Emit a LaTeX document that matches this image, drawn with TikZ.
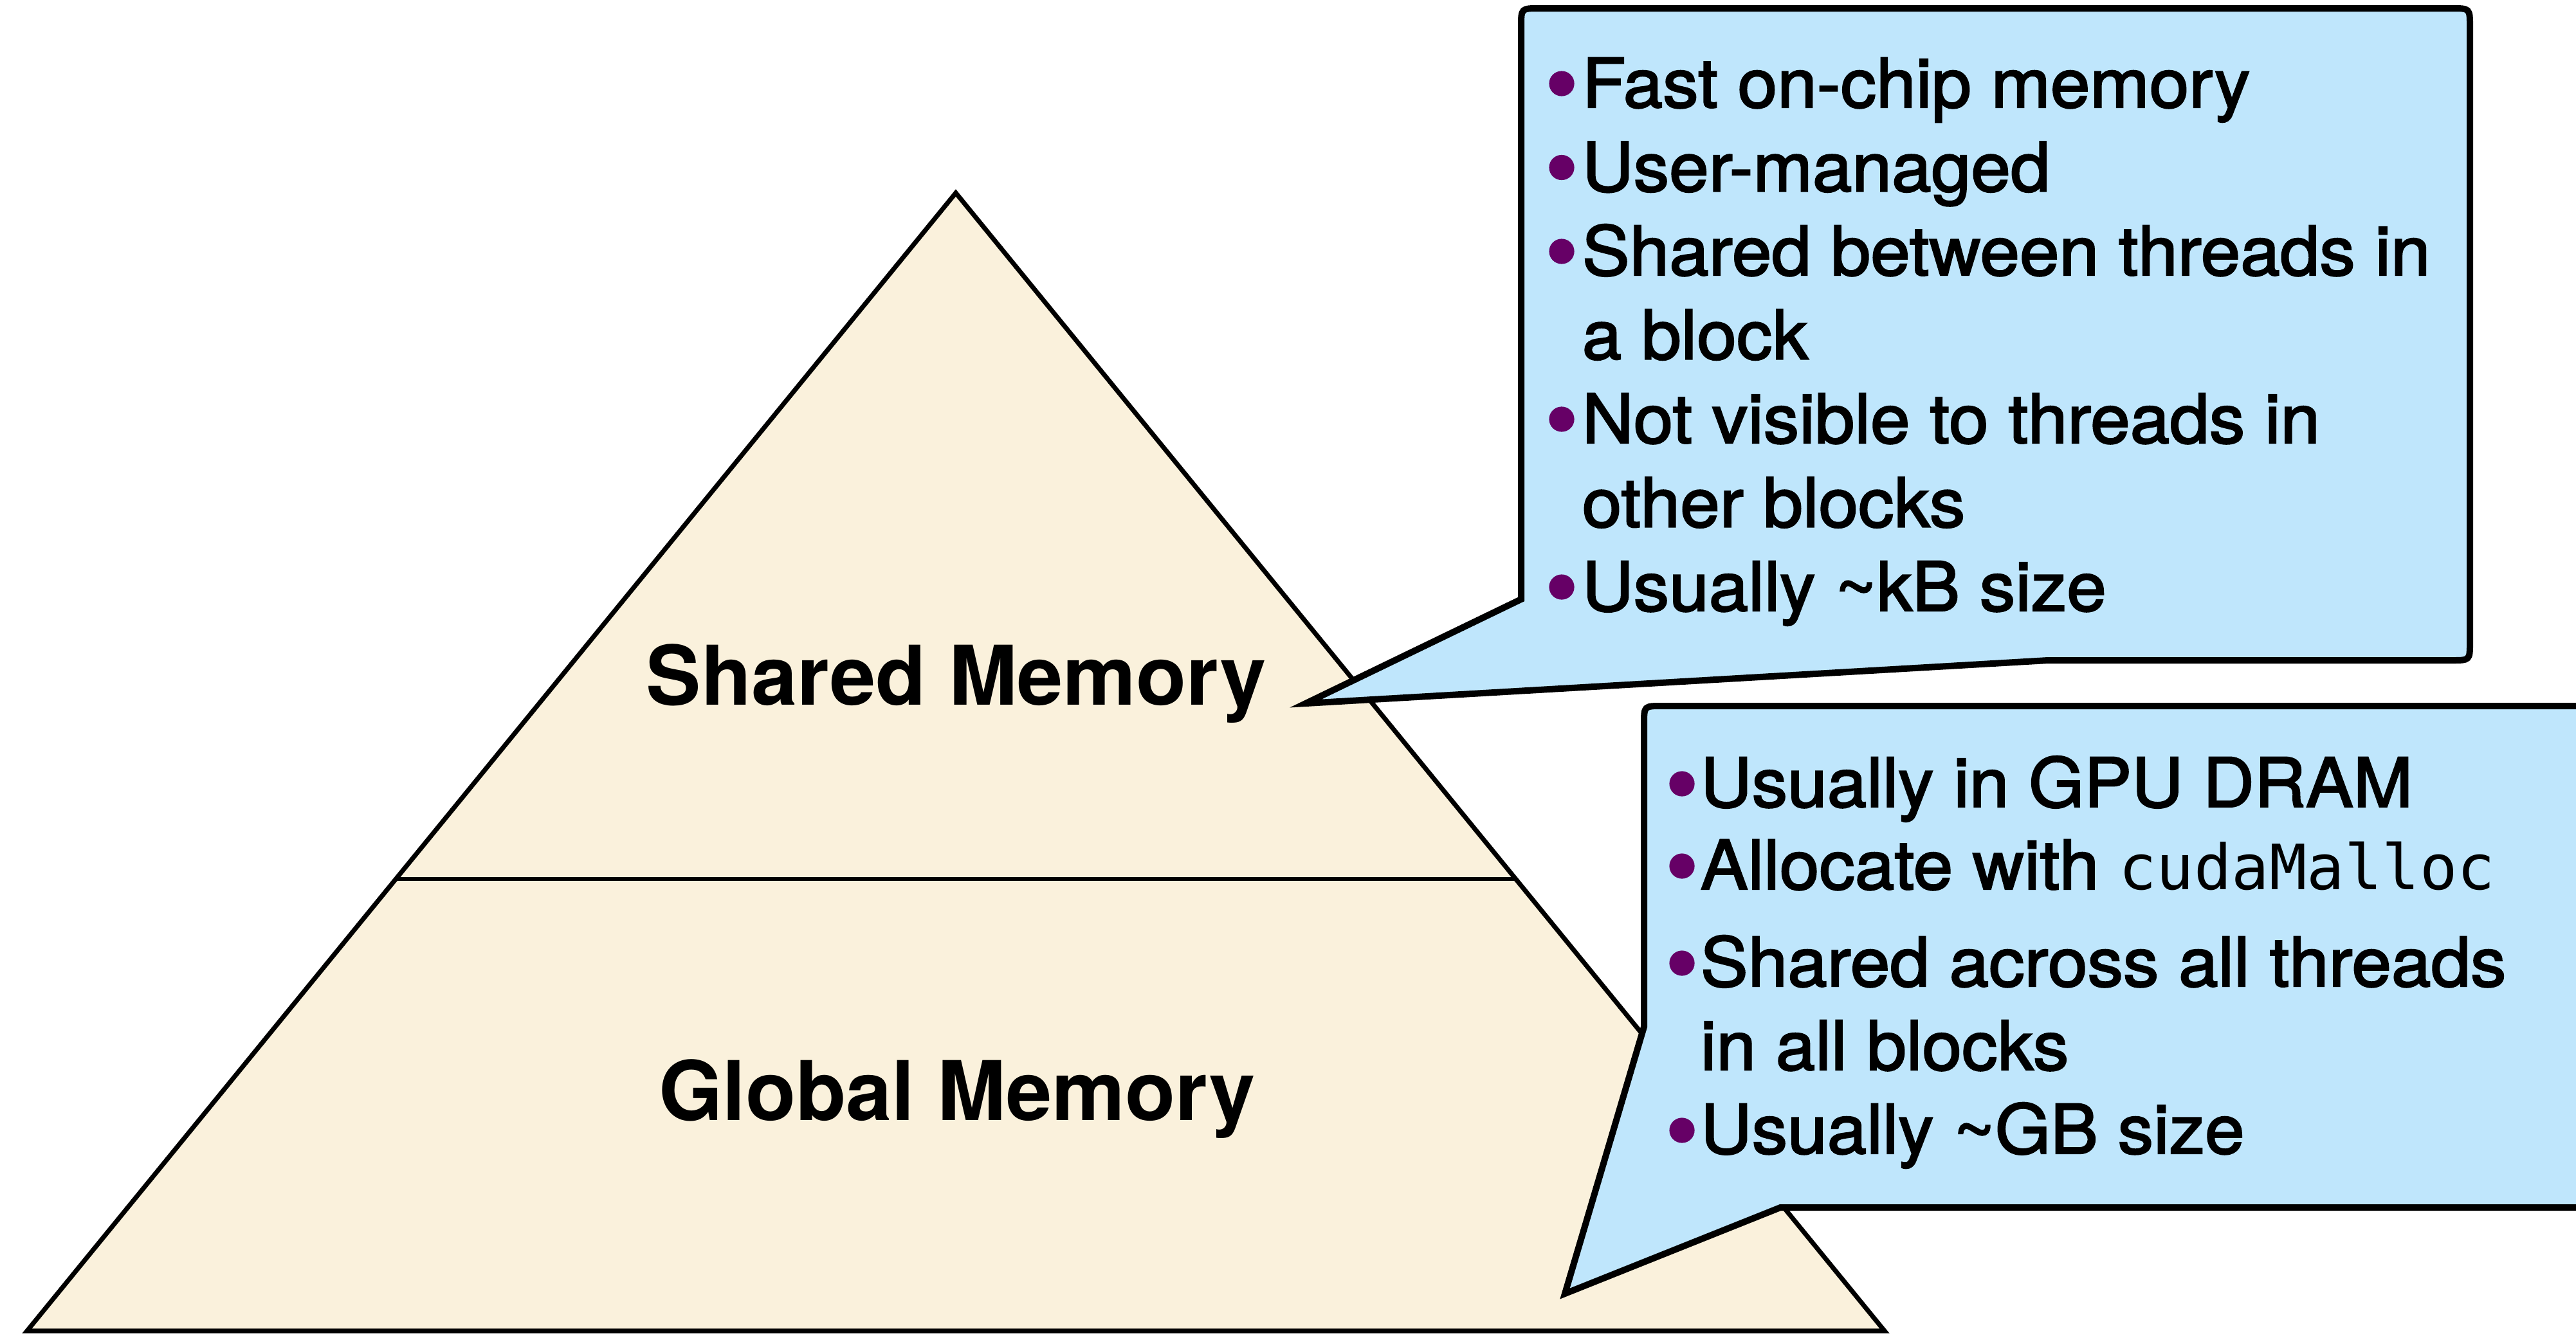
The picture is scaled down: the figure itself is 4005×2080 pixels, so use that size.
\documentclass[tikz,border=0pt]{standalone}
\usepackage{fontspec}
\setmainfont{TeX Gyre Heros}
\newfontfamily\itemfont{TeX Gyre Heros}[FakeStretch=1.045,FakeBold=2.2]
\newfontfamily\codefont{DejaVu Sans Mono}
\usetikzlibrary{calc}

\definecolor{pyrfill}{HTML}{FAF1DC}
\definecolor{notefill}{HTML}{BFE6FC}
\definecolor{dotcol}{HTML}{660066}

\tikzset{
  pyr/.style={draw=black, line width=1.8pt, fill=pyrfill, line join=miter},
  divider/.style={draw=black, line width=1.6pt},
  lbl/.style={font=\fontsize{32}{38}\selectfont\bfseries, inner sep=0pt},
  note/.style={draw=black, line width=2.5pt, fill=notefill, line join=miter},
  itemtxt/.style={font=\itemfont\fontsize{26.5}{32}\selectfont, inner sep=0pt, anchor=base west},
  dotmark/.style={circle, fill=dotcol, inner sep=0pt, minimum size=9.8pt},
}

\begin{document}
\begin{tikzpicture}[x=0.25pt, y=-0.25pt]
\useasboundingbox (0,0) rectangle (4005,2080);
\clip (0,0) rectangle (4005,2080);

% memory pyramid
\coordinate (apex) at (1486,300);
\coordinate (bl) at (42,2070);
\coordinate (br) at (2930,2070);
\draw[pyr] (bl) -- (apex) -- (br) -- cycle;
\coordinate (dl) at ($(bl)!0.3972!(apex)$);
\coordinate (dr) at ($(br)!0.3972!(apex)$);
\draw[divider] (dl) -- (dr);

\node[lbl, anchor=base] (shared) at (1487,1096) {Shared Memory};
\node[lbl, anchor=base] (global) at (1488,1742) {Global Memory};

% callout for shared memory
\draw[note] (2365,932) -- (2365,41) .. controls (2365,13) .. (2393,13)
  -- (3812,13) .. controls (3840,13) .. (3840,41)
  -- (3840,999) .. controls (3840,1027) .. (3812,1027)
  -- (3184,1027) -- (2030,1094) -- cycle;

\node[itemtxt] (s1) at (2459,167) {Fast on-chip memory};
\node[itemtxt] (s2) at (2459,297.5) {User-managed};
\node[itemtxt] (s3) at (2459,428) {Shared between threads in};
\node[itemtxt] (s3b) at (2459,558.5) {a block};
\node[itemtxt] (s4) at (2459,689) {Not visible to threads in};
\node[itemtxt] (s4b) at (2459,819.5) {other blocks};
\node[itemtxt] (s5) at (2459,950) {Usually \textasciitilde kB size};
\node[dotmark] (sd1) at (2428,130) {};
\node[dotmark] (sd2) at (2428,260.5) {};
\node[dotmark] (sd3) at (2428,391) {};
\node[dotmark] (sd4) at (2428,652) {};
\node[dotmark] (sd5) at (2428,913) {};

% callout for global memory
\draw[note] (2556,1597) -- (2556,1126) .. controls (2556,1098) .. (2584,1098)
  -- (4120,1098) -- (4120,1878) -- (2768,1878) -- (2433,2012) -- cycle;

\node[itemtxt] (g1) at (2643,1255) {Usually in GPU DRAM};
\node[itemtxt] (g2) at (2643,1383) {Allocate with {\codefont\fontsize{24.3}{30}\selectfont cudaMalloc}};
\node[itemtxt] (g3) at (2643,1534) {Shared across all threads};
\node[itemtxt] (g3b) at (2643,1664) {in all blocks};
\node[itemtxt] (g4) at (2643,1794) {Usually \textasciitilde GB size};
\node[dotmark] (gd1) at (2615,1219) {};
\node[dotmark] (gd2) at (2615,1347) {};
\node[dotmark] (gd3) at (2615,1498) {};
\node[dotmark] (gd4) at (2615,1758) {};
\end{tikzpicture}
\end{document}
